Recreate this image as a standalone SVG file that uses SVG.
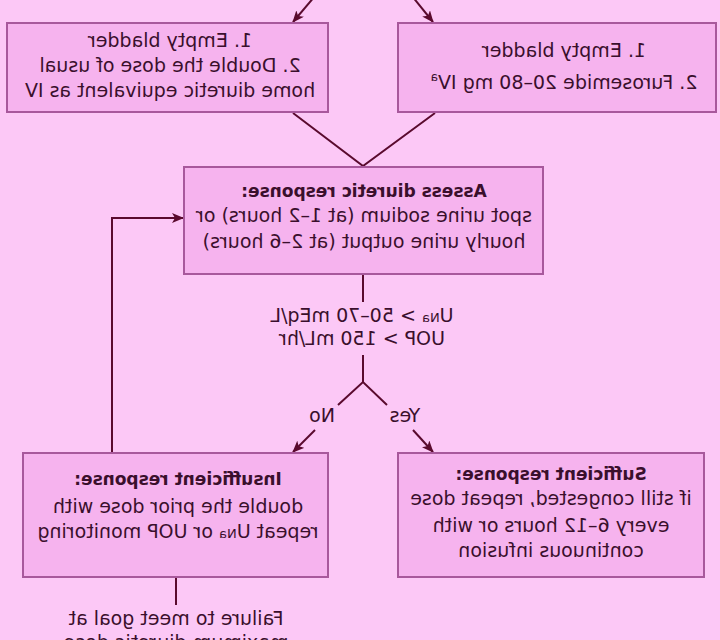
<svg xmlns="http://www.w3.org/2000/svg" width="720" height="640" viewBox="0 0 720 640">
<style>
.box{fill:#f6b3ee;stroke:#a8589c;stroke-width:2}
.t{font-family:"DejaVu Sans",sans-serif;font-size:19px;fill:#3a0f2c;text-anchor:middle}
.b{font-weight:bold;font-size:17px}
.c{fill:none;stroke:#5a0a2e;stroke-width:2}
</style>
<defs>
<marker id="ah" viewBox="0 0 12 10" refX="11" refY="5" markerWidth="12" markerHeight="10" markerUnits="userSpaceOnUse" orient="auto">
<path d="M0,0 L12,5 L0,10 L3,5 Z" fill="#5a0a2e"/>
</marker>
</defs>
<rect width="720" height="640" fill="#fcc8f6"/>
<g transform="matrix(-1 0 0 1 720 0)">
<g id="connectors">
<line class="c" x1="405" y1="-4" x2="427" y2="22" marker-end="url(#ah)"/>
<line class="c" x1="308" y1="-4" x2="287" y2="22" marker-end="url(#ah)"/>
<polyline class="c" points="427,113 357,166 285,113"/>
<line class="c" x1="357" y1="274" x2="357" y2="302"/>
<line class="c" x1="357" y1="355" x2="357" y2="382"/>
<polyline class="c" points="382,405 357,382 333,405"/>
<line class="c" x1="405" y1="430" x2="427" y2="452" marker-end="url(#ah)"/>
<line class="c" x1="307" y1="430" x2="287" y2="452" marker-end="url(#ah)"/>
<polyline class="c" points="608,453 608,218 537,218" marker-end="url(#ah)"/>
<line class="c" x1="544" y1="577" x2="544" y2="605"/>
</g>
<g id="home">
<rect class="box" x="392" y="23" width="321" height="89"/>
<text class="t" x="550" y="47">1. Empty bladder</text>
<text class="t" x="550" y="72">2. Double the dose of usual</text>
<text class="t" x="550" y="97">home diuretic equivalent as IV</text>
</g>
<g id="naive">
<rect class="box" x="4" y="23" width="318" height="89"/>
<text class="t" x="156" y="57">1. Empty bladder</text>
<text class="t" x="156" y="89">2. Furosemide 20–80 mg IV<tspan font-size="12" dy="-8">a</tspan></text>
</g>
<g id="assess">
<rect class="box" x="177" y="167" width="359" height="107"/>
<text class="t b" x="356" y="197">Assess diuretic response:</text>
<text class="t" x="356" y="222">spot urine sodium (at 1–2 hours) or</text>
<text class="t" x="356" y="248">hourly urine output (at 2–6 hours)</text>
</g>
<g id="criteria">
<text class="t" x="358" y="322">U<tspan font-size="13">Na</tspan> &gt; 50–70 mEq/L</text>
<text class="t" x="358" y="345">UOP &gt; 150 mL/hr</text>
<text class="t" x="398" y="422">No</text>
<text class="t" x="315" y="422">Yes</text>
</g>
<g id="insufficient">
<rect class="box" x="392" y="453" width="305" height="124"/>
<text class="t b" x="542" y="485">Insufficient response:</text>
<text class="t" x="542" y="513">double the prior dose with</text>
<text class="t" x="542" y="538">repeat U<tspan font-size="13">Na</tspan> or UOP monitoring</text>
</g>
<g id="sufficient">
<rect class="box" x="16" y="453" width="306" height="124"/>
<text class="t b" x="169" y="480">Sufficient response:</text>
<text class="t" x="169" y="505">if still congested, repeat dose</text>
<text class="t" x="169" y="532">every 6–12 hours or with</text>
<text class="t" x="169" y="557">continuous infusion</text>
</g>
<g id="failure">
<text class="t" x="544" y="625">Failure to meet goal at</text>
<text class="t" x="544" y="649">maximum diuretic dose</text>
</g>
</g>
</svg>
